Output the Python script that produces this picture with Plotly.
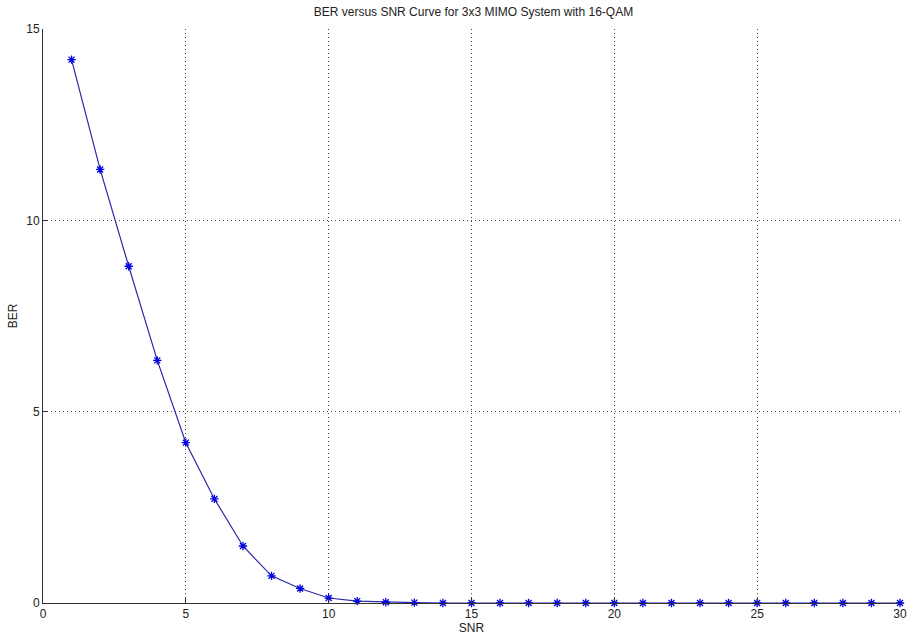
import plotly.graph_objects as go

snr = list(range(1, 31))
ber = [14.2, 11.33, 8.80, 6.34, 4.19, 2.72, 1.49, 0.71, 0.38, 0.13, 0.05, 0.02, 0.01,
       0, 0, 0, 0, 0, 0, 0, 0, 0, 0, 0, 0, 0, 0, 0, 0, 0]

x_ticks = [0, 5, 10, 15, 20, 25, 30]
y_ticks = [0, 5, 10, 15]

fig = go.Figure()
fig.add_trace(go.Scatter(
    x=snr, y=ber, mode="lines+markers",
    line=dict(color="#2a2aa8", width=1.2),
    marker=dict(symbol="asterisk-open", size=7, color="#0000e0",
                line=dict(color="#0000e0", width=1.3)),
    showlegend=False, cliponaxis=False,
))

axis_common = dict(
    showgrid=True, gridcolor="#444444", griddash="1px,3px", gridwidth=1,
    showline=True, linecolor="#333333", linewidth=1,
    ticks="inside", ticklen=5, tickcolor="#333333",
    zeroline=False, mirror=False,
    tickfont=dict(family="Liberation Sans, Arial", size=12, color="#222222"),
)

fig.update_layout(
    width=914, height=644,
    margin=dict(l=43, r=7, t=29, b=41),
    paper_bgcolor="white", plot_bgcolor="white",
    title=dict(text="BER versus SNR Curve for 3x3 MIMO System with 16-QAM",
               x=0.518, xanchor="center", y=0.982, yanchor="middle",
               font=dict(family="Liberation Sans, Arial", size=12, color="#222222")),
    xaxis=dict(range=[0, 30], tickvals=x_ticks,
               title=dict(text="SNR", standoff=3,
                          font=dict(family="Liberation Sans, Arial", size=12, color="#222222")),
               **axis_common),
    yaxis=dict(range=[0, 15], tickvals=y_ticks,
               title=dict(text="BER", standoff=6,
                          font=dict(family="Liberation Sans, Arial", size=12, color="#222222")),
               **axis_common),
)

fig.write_html("out.html")
